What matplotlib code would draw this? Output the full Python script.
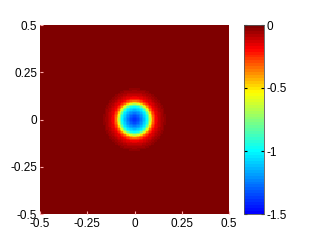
import numpy as np
import matplotlib
matplotlib.use("Agg")
import matplotlib.pyplot as plt
from matplotlib.colors import LinearSegmentedColormap

# radial profile (radius, value)
profile_r = [0.0, 0.02, 0.042, 0.067, 0.079, 0.088, 0.097, 0.115, 0.14, 0.175, 0.8]
profile_v = [-1.4, -1.35, -1.2, -1.0, -0.75, -0.53, -0.35, -0.17, -0.08, 0.0, 0.0]
tick_vals = [-0.5, -0.25, 0, 0.25, 0.5]
tick_labels = ["-0.5", "-0.25", "0", "0.25", "0.5"]
cbar_ticks = [0, -0.5, -1, -1.5]
cbar_labels = ["0", "-0.5", "-1", "-1.5"]
vmin, vmax = -1.5, 0.0

cmap = LinearSegmentedColormap.from_list(
    "jetlike",
    [(0.0, (0, 0, 1)), (0.167, (0, 0.5, 1)), (0.333, (0, 1, 1)),
     (0.49, (0.5, 1, 0.5)), (0.645, (1, 1, 0)), (0.76, (1, 0.5, 0)),
     (0.88, (1, 0, 0)), (1.0, (0.5, 0, 0))], N=64)

n = 128
xs = np.linspace(-0.5, 0.5, n)
X, Y = np.meshgrid(xs, xs)
R = np.sqrt(X**2 + Y**2)
Z = np.interp(R, profile_r, profile_v)

plt.rcParams['font.family'] = ['Liberation Sans', 'DejaVu Sans']
fig = plt.figure(figsize=(3.12, 2.45), dpi=100)
ax = fig.add_axes([40/312, 1-214/245, 189/312, 189/245])
im = ax.imshow(Z, extent=[-0.5, 0.5, -0.5, 0.5], origin='lower', cmap=cmap,
               vmin=vmin, vmax=vmax, interpolation='nearest', aspect='auto')
ax.set_xticks(tick_vals)
ax.set_xticklabels(tick_labels)
ax.set_yticks(tick_vals)
ax.set_yticklabels(tick_labels)
ax.tick_params(direction='in', length=2, labelsize=8.5, pad=2, color='#ffaaaa')
ax.tick_params(axis='x', pad=3)
for s in ax.spines.values():
    s.set_visible(False)

cax = fig.add_axes([244/312, 1-214/245, 20/312, 189/245])
cb = fig.colorbar(im, cax=cax)
cb.set_ticks(cbar_ticks)
cb.set_ticklabels(cbar_labels)
cax.tick_params(direction='in', length=2, labelsize=8.5, pad=2, left=True)
cb.outline.set_linewidth(0.6)
cb.outline.set_edgecolor('#555555')

fig.savefig("out.png", dpi=100)
